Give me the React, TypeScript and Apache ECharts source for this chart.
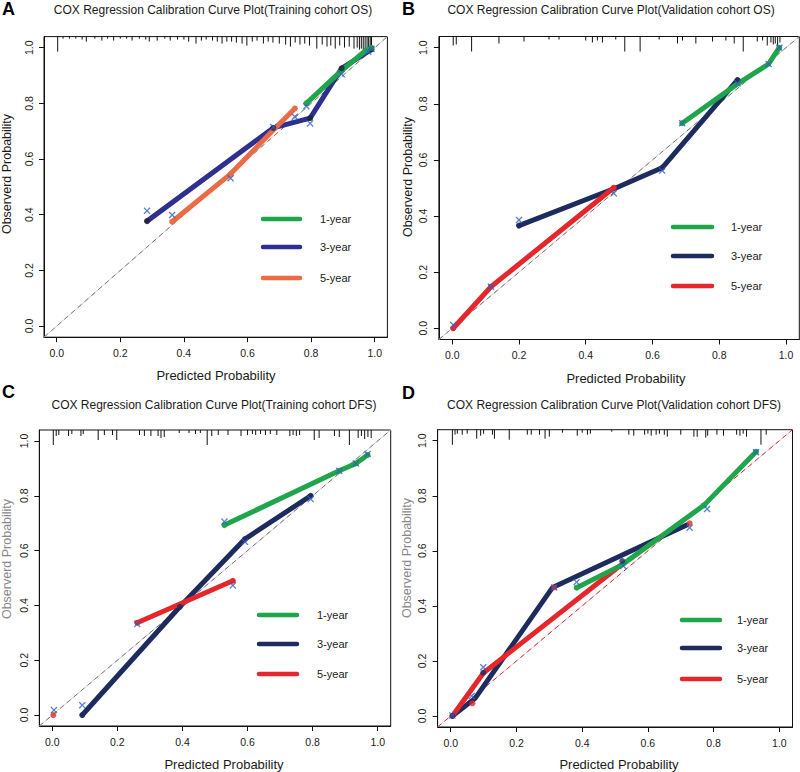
import React, { useEffect, useRef } from "react";
import * as echarts from "echarts";

// ---------- shared text ----------
const tickValues = [0, 0.2, 0.4, 0.6, 0.8, 1.0];
const legendLabels = ["1-year", "3-year", "5-year"];
const panelLetters = ["A", "B", "C", "D"];
const panelTitles = [
  "COX Regression Calibration Curve Plot(Training cohort OS)",
  "COX Regression Calibration Curve Plot(Validation cohort OS)",
  "COX Regression Calibration Curve Plot(Training cohort DFS)",
  "COX Regression Calibration Curve Plot(Validation cohort DFS)",
];
const xTitle = "Predicted Probability";
const yTitle = "Observerd Probability";

// ---------- Panel A (Training OS) ----------
const aOneYear = [[0.785, 0.8], [0.893, 0.915], [0.972, 0.99], [0.99, 1.0]];
const aThreeYear = [[0.284, 0.377], [0.681, 0.712], [0.797, 0.747], [0.896, 0.926], [0.99, 0.994]];
const aFiveYear = [[0.363, 0.375], [0.547, 0.547], [0.682, 0.705], [0.749, 0.782]];
const aOneDots = [[0.785, 0.8], [0.972, 0.99], [0.99, 1.0]];
const aThreeDots = [[0.284, 0.377], [0.681, 0.712], [0.797, 0.747], [0.896, 0.926], [0.99, 0.994]];
const aFiveDots = [[0.363, 0.375], [0.547, 0.547], [0.749, 0.782]];
const aCrosses = [[0.284, 0.414], [0.363, 0.399], [0.547, 0.531], [0.681, 0.715], [0.749, 0.752], [0.785, 0.79], [0.797, 0.728], [0.896, 0.905], [0.98, 0.986], [0.99, 0.996]];
const aRug = [[0.003, 15], [0.02, 2], [0.04, 2], [0.06, 2], [0.08, 3], [0.093, 5], [0.12, 2], [0.142, 4], [0.16, 2], [0.179, 4], [0.2, 2], [0.22, 2], [0.237, 4], [0.26, 2], [0.28, 3], [0.291, 5], [0.316, 4], [0.34, 2], [0.357, 4], [0.38, 3], [0.4, 3], [0.415, 5], [0.438, 7], [0.455, 4], [0.47, 3], [0.49, 4], [0.505, 5], [0.52, 7], [0.535, 5], [0.55, 5], [0.565, 6], [0.583, 7], [0.598, 9], [0.615, 5], [0.63, 4], [0.65, 7], [0.665, 5], [0.68, 6], [0.7, 7], [0.72, 8], [0.735, 10], [0.75, 6], [0.765, 8], [0.78, 7], [0.795, 9], [0.818, 12], [0.835, 8], [0.85, 10], [0.862, 9], [0.876, 12], [0.89, 9], [0.905, 11], [0.92, 10], [0.935, 12], [0.945, 11], [0.952, 13], [0.958, 12], [0.964, 14], [0.97, 13], [0.976, 14], [0.981, 14], [0.986, 13], [0.99, 12]];

// ---------- Panel B (Validation OS) ----------
const bOneYear = [[0.689, 0.731], [0.857, 0.873], [0.948, 0.942], [0.98, 1.0]];
const bThreeYear = [[0.2, 0.366], [0.49, 0.5], [0.629, 0.572], [0.855, 0.885]];
const bFiveYear = [[0.003, 0.0], [0.116, 0.148], [0.484, 0.501]];
const bOneDots = [[0.689, 0.731], [0.98, 1.0]];
const bThreeDots = [[0.2, 0.366], [0.629, 0.572], [0.855, 0.885]];
const bFiveDots = [[0.003, 0.0], [0.116, 0.148], [0.484, 0.501]];
const bCrosses = [[0.003, 0.012], [0.116, 0.148], [0.2, 0.386], [0.484, 0.481], [0.629, 0.562], [0.689, 0.731], [0.855, 0.873], [0.948, 0.942], [0.98, 1.0]];
const bRug = [[0.003, 9], [0.012, 8], [0.058, 15], [0.14, 7], [0.215, 5], [0.29, 3], [0.32, 3], [0.4, 4], [0.42, 6], [0.435, 4], [0.45, 6], [0.49, 3], [0.517, 15], [0.563, 15], [0.62, 3], [0.675, 7], [0.69, 4], [0.73, 7], [0.78, 5], [0.82, 4], [0.845, 7], [0.872, 15], [0.914, 5], [0.93, 4], [0.944, 9], [0.955, 6], [0.962, 8], [0.968, 7], [0.975, 9], [0.982, 6]];

// ---------- Panel C (Training DFS) ----------
const cOneYear = [[0.529, 0.693], [0.882, 0.891], [0.933, 0.918], [0.969, 0.949]];
const cThreeYear = [[0.092, 0.0], [0.392, 0.395], [0.592, 0.642], [0.794, 0.8]];
const cFiveYear = [[0.261, 0.337], [0.555, 0.49]];
const cOneDots = [[0.529, 0.693], [0.882, 0.891], [0.933, 0.918], [0.969, 0.949]];
const cThreeDots = [[0.092, 0.0], [0.392, 0.395], [0.592, 0.642], [0.794, 0.8]];
const cFiveDots = [[0.003, 0.0], [0.261, 0.337], [0.555, 0.49]];
const cCrosses = [[0.005, 0.018], [0.092, 0.036], [0.261, 0.332], [0.529, 0.706], [0.555, 0.473], [0.592, 0.632], [0.794, 0.788], [0.882, 0.891], [0.933, 0.918], [0.969, 0.952]];
const cRug = [[0.003, 15], [0.012, 6], [0.02, 5], [0.05, 6], [0.06, 4], [0.088, 6], [0.095, 4], [0.141, 10], [0.16, 5], [0.185, 5], [0.198, 10], [0.268, 5], [0.283, 6], [0.303, 6], [0.325, 6], [0.334, 8], [0.344, 7], [0.39, 3], [0.42, 3], [0.44, 4], [0.455, 3], [0.476, 15], [0.49, 6], [0.51, 5], [0.54, 5], [0.58, 6], [0.6, 5], [0.615, 4], [0.625, 5], [0.64, 4], [0.655, 5], [0.67, 4], [0.69, 5], [0.73, 6], [0.74, 5], [0.75, 6], [0.76, 5], [0.805, 10], [0.82, 8], [0.867, 6], [0.882, 7], [0.913, 15], [0.94, 8], [0.95, 6], [0.96, 9], [0.97, 7], [0.98, 8]];

// ---------- Panel D (Validation DFS) ----------
const dOneYear = [[0.383, 0.466], [0.52, 0.548], [0.771, 0.766], [0.929, 0.96]];
const dThreeYear = [[0.005, 0.0], [0.074, 0.064], [0.31, 0.467], [0.718, 0.694]];
const dFiveYear = [[0.005, 0.0], [0.1, 0.157], [0.52, 0.55]];
const dOneDots = [[0.383, 0.466], [0.771, 0.766], [0.929, 0.96]];
const dThreeDots = [[0.005, 0.0], [0.099, 0.157], [0.522, 0.563]];
const dFiveDots = [[0.066, 0.046], [0.315, 0.467], [0.727, 0.7]];
const dCrosses = [[0.005, 0.002], [0.064, 0.073], [0.099, 0.177], [0.315, 0.467], [0.383, 0.486], [0.525, 0.545], [0.727, 0.684], [0.78, 0.752], [0.929, 0.958]];
const dRug = [[0.005, 15], [0.013, 5], [0.02, 4], [0.035, 5], [0.05, 4], [0.079, 9], [0.091, 6], [0.1, 4], [0.127, 5], [0.133, 9], [0.178, 10], [0.233, 5], [0.245, 5], [0.27, 5], [0.287, 9], [0.3, 7], [0.34, 3], [0.385, 6], [0.4, 3], [0.416, 5], [0.425, 4], [0.49, 2], [0.542, 5], [0.557, 6], [0.59, 5], [0.6, 4], [0.61, 6], [0.625, 5], [0.635, 4], [0.65, 5], [0.659, 7], [0.7, 5], [0.74, 7], [0.75, 7], [0.776, 8], [0.782, 6], [0.81, 5], [0.83, 6], [0.87, 5], [0.88, 6], [0.89, 4], [0.9, 7], [0.944, 15], [0.96, 5]];

// ---------- styling / layout ----------
const FONT = "'Liberation Sans', Arial, Helvetica, sans-serif";
const GREEN = "#1fa64a";
const CROSS = "#2f5fbf";
const EXT = [-0.04, 1.04];
const CROSS_PATH =
  "path://M0,1.3L1.3,0L5,3.7L8.7,0L10,1.3L6.3,5L10,8.7L8.7,10L5,6.3L1.3,10L0,8.7L3.7,5Z";

const panelData = [
  { one: aOneYear, three: aThreeYear, five: aFiveYear, oneDots: aOneDots, threeDots: aThreeDots, fiveDots: aFiveDots, crosses: aCrosses, rug: aRug },
  { one: bOneYear, three: bThreeYear, five: bFiveYear, oneDots: bOneDots, threeDots: bThreeDots, fiveDots: bFiveDots, crosses: bCrosses, rug: bRug },
  { one: cOneYear, three: cThreeYear, five: cFiveYear, oneDots: cOneDots, threeDots: cThreeDots, fiveDots: cFiveDots, crosses: cCrosses, rug: cRug },
  { one: dOneYear, three: dThreeYear, five: dFiveYear, oneDots: dOneDots, threeDots: dThreeDots, fiveDots: dFiveDots, crosses: dCrosses, rug: dRug },
];

const panelLayout = [
  { grid: { left: 44, top: 36.6, width: 343.4, height: 300.6 }, navy: "#2e2f8e", red: "#ec6a45", navyDot: "#1c2333", diag: "#777777", yColor: "#1a1a1a",
    letter: [8.5, 9], title: [213, 9.5], xName: [216, 375], yName: [6.5, 174], legend: { x1: 263, x2: 300, tx: 320, ys: [219, 247, 278] } },
  { grid: { left: 438.9, top: 36.5, width: 360.4, height: 303 }, navy: "#1e2b5f", red: "#e5272b", navyDot: "#1e2b5f", diag: "#777777", yColor: "#1a1a1a",
    letter: [408.5, 9], title: [611, 9.5], xName: [626, 378], yName: [408, 177], legend: { x1: 673, x2: 712, tx: 731, ys: [227, 256, 286] } },
  { grid: { left: 39.3, top: 430, width: 351.4, height: 296 }, navy: "#1e2b5f", red: "#e5272b", navyDot: "#1e2b5f", diag: "#777777", yColor: "#888888",
    letter: [8.5, 392], title: [214, 405], xName: [224, 764], yName: [6.5, 559], legend: { x1: 259, x2: 297, tx: 317, ys: [615, 644, 674] } },
  { grid: { left: 437.6, top: 429.7, width: 354.9, height: 297.3 }, navy: "#1e2b5f", red: "#e5272b", navyDot: "#1e2b5f", diag: "#e5272b", yColor: "#888888",
    letter: [408.5, 392.5], title: [614, 405], xName: [619, 764], yName: [406.5, 558], legend: { x1: 682, x2: 720, tx: 737, ys: [620, 648, 679] } },
];

function buildOption() {
  const grid: any[] = [];
  const xAxis: any[] = [];
  const yAxis: any[] = [];
  const series: any[] = [];
  const graphic: any[] = [];

  panelData.forEach((d, i) => {
    const L = panelLayout[i];
    grid.push({ ...L.grid, show: true, borderColor: "#111", borderWidth: 1, backgroundColor: "transparent", containLabel: false });
    const axisCommon = {
      type: "value",
      min: EXT[0],
      max: EXT[1],
      gridIndex: i,
      splitLine: { show: false },
      axisLine: { show: true, onZero: false, lineStyle: { color: "#111", width: 1 } },
      axisTick: { show: true, inside: false, length: 5, customValues: tickValues, lineStyle: { color: "#111" } },
    };
    xAxis.push({
      ...axisCommon,
      position: "bottom",
      axisLabel: { customValues: tickValues, formatter: (v: number) => v.toFixed(1), color: "#1a1a1a", fontSize: 10.5, fontFamily: FONT, margin: 10 },
    });
    yAxis.push({
      ...axisCommon,
      position: "left",
      axisLabel: { customValues: tickValues, formatter: (v: number) => v.toFixed(1), color: "#1a1a1a", fontSize: 10.5, fontFamily: FONT, rotate: 90, margin: 10 },
    });

    const base = { xAxisIndex: i, yAxisIndex: i, silent: true, animation: false };
    series.push({ ...base, type: "line", data: [[EXT[0], EXT[0]], [EXT[1], EXT[1]]], symbol: "none", lineStyle: { color: "#d4d4d4", width: 1 }, z: 1 });
    series.push({ ...base, type: "line", data: [[EXT[0], EXT[0]], [EXT[1], EXT[1]]], symbol: "none", lineStyle: { color: L.diag, width: 1, type: [5, 4] }, z: 2 });
    series.push({
      ...base,
      type: "custom",
      data: d.rug,
      z: 3,
      renderItem: (params: any, api: any) => {
        const x = api.value(0);
        const h = api.value(1);
        const p = api.coord([x, EXT[1]]);
        return { type: "line", shape: { x1: p[0], y1: p[1], x2: p[0], y2: p[1] + h }, style: { stroke: "#111", lineWidth: 1 } };
      },
    });
    series.push({ ...base, name: "3-year", type: "line", data: d.three, symbol: "none", lineStyle: { color: L.navy, width: 5, cap: "round" }, z: 4 });
    series.push({ ...base, name: "5-year", type: "line", data: d.five, symbol: "none", lineStyle: { color: L.red, width: 5, cap: "round" }, z: 5 });
    series.push({ ...base, name: "1-year", type: "line", data: d.one, symbol: "none", lineStyle: { color: GREEN, width: 5, cap: "round" }, z: 6 });
    series.push({ ...base, type: "scatter", data: d.threeDots, symbol: "circle", symbolSize: 6, itemStyle: { color: L.navyDot }, z: 7 });
    series.push({ ...base, type: "scatter", data: d.fiveDots, symbol: "circle", symbolSize: 6, itemStyle: { color: L.red }, z: 7 });
    series.push({ ...base, type: "scatter", data: d.oneDots, symbol: "circle", symbolSize: 6, itemStyle: { color: GREEN }, z: 7 });
    series.push({ ...base, type: "scatter", data: d.crosses, symbol: CROSS_PATH, symbolSize: 7, itemStyle: { color: CROSS }, z: 8 });

    // texts
    graphic.push({ type: "text", x: L.letter[0], y: L.letter[1], style: { text: panelLetters[i], font: `bold 18px ${FONT}`, fill: "#000", align: "center", verticalAlign: "middle", textAlign: "center", textVerticalAlign: "middle" } });
    graphic.push({ type: "text", x: L.title[0], y: L.title[1], style: { text: panelTitles[i], font: `12px ${FONT}`, fill: "#1a1a1a", align: "center", verticalAlign: "middle", textAlign: "center", textVerticalAlign: "middle" } });
    graphic.push({ type: "text", x: L.xName[0], y: L.xName[1], style: { text: xTitle, font: `13px ${FONT}`, fill: "#1a1a1a", align: "center", verticalAlign: "middle", textAlign: "center", textVerticalAlign: "middle" } });
    graphic.push({ type: "text", x: L.yName[0], y: L.yName[1], rotation: Math.PI / 2, style: { text: yTitle, font: `12.5px ${FONT}`, fill: L.yColor, align: "center", verticalAlign: "middle", textAlign: "center", textVerticalAlign: "middle" } });
    const legColors = [GREEN, L.navy, L.red];
    legendLabels.forEach((lab, k) => {
      const y = L.legend.ys[k];
      graphic.push({ type: "line", shape: { x1: L.legend.x1, y1: y, x2: L.legend.x2, y2: y }, style: { stroke: legColors[k], lineWidth: 4.5, lineCap: "round" } });
      graphic.push({ type: "text", x: L.legend.tx, y, style: { text: lab, font: `11px ${FONT}`, fill: "#1a1a1a", align: "left", verticalAlign: "middle", textAlign: "left", textVerticalAlign: "middle" } });
    });
  });

  return { animation: false, backgroundColor: "#ffffff", grid, xAxis, yAxis, series, graphic };
}

export default function App() {
  const ref = useRef<HTMLDivElement>(null);
  useEffect(() => {
    if (!ref.current) return;
    const chart = echarts.init(ref.current, null, { renderer: "svg" });
    chart.setOption(buildOption() as any);
    return () => chart.dispose();
  }, []);
  return <div ref={ref} style={{ position: "fixed", left: 0, top: 0, width: 800, height: 772, background: "#fff" }} />;
}
